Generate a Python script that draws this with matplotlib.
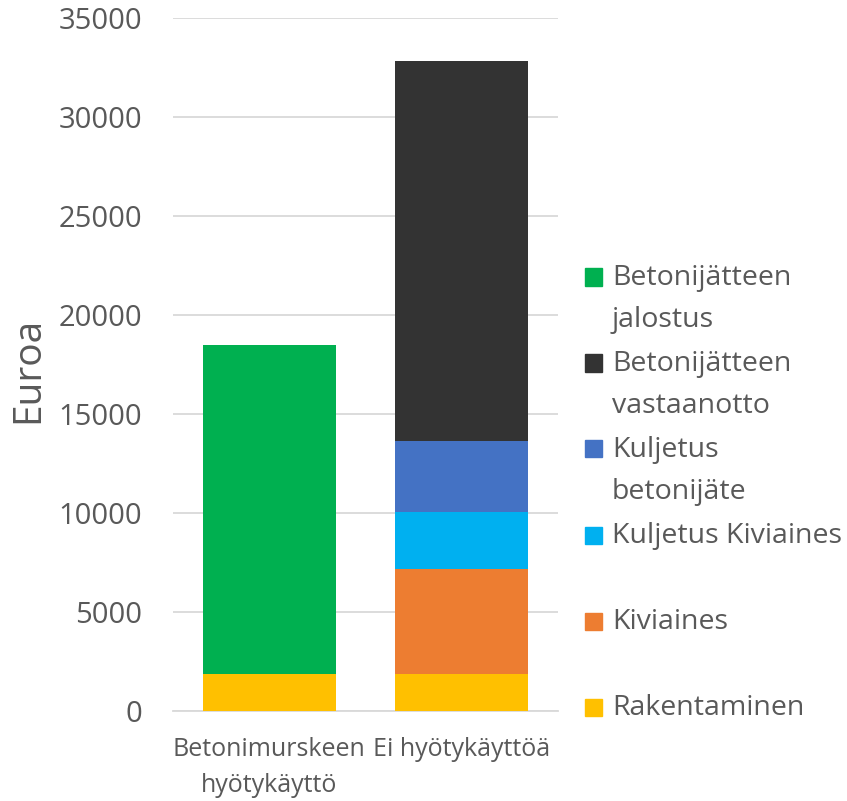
import matplotlib.pyplot as plt
from matplotlib.patches import Rectangle

plt.rcParams['font.family'] = ['Open Sans', 'DejaVu Sans']

categories = ['Betonimurskeen\nhyötykäyttö', 'Ei hyötykäyttöä']
series_names = ['Rakentaminen', 'Kiviaines', 'Kuljetus Kiviaines',
                'Kuljetus\nbetonijäte', 'Betonijätteen\nvastaanotto',
                'Betonijätteen\njalostus']
rakentaminen = [1870, 1870]
kiviaines = [0, 5300]
kuljetus_kiviaines = [0, 2880]
kuljetus_betonijate = [0, 3590]
vastaanotto = [0, 19190]
jalostus = [16615, 0]
colors = ['#FFC000', '#ED7D31', '#00B0F0', '#4472C4', '#333333', '#00B050']
yticks = [0, 5000, 10000, 15000, 20000, 25000, 30000, 35000]

values = [rakentaminen, kiviaines, kuljetus_kiviaines, kuljetus_betonijate,
          vastaanotto, jalostus]

fig = plt.figure(figsize=(8.47, 8.01), dpi=100)
ax = fig.add_axes([0.204, 0.1124, 0.455, 0.865])

x = list(range(len(categories)))
bottom = [0, 0]
for vals, col in zip(values, colors):
    ax.bar(x, vals, width=0.69, bottom=bottom, color=col, zorder=3)
    bottom = [b + v for b, v in zip(bottom, vals)]

ax.set_xlim(-0.5, 1.5)
ax.set_ylim(0, 35000)
ax.set_yticks(yticks)
ax.set_xticks(x)
ax.set_xticklabels(categories, fontsize=18, color='#595959', linespacing=1.55)
ax.tick_params(axis='y', labelsize=21, colors='#595959', length=0, pad=22)
ax.tick_params(axis='x', length=0, pad=19)
ax.grid(axis='y', color='#d9d9d9', linewidth=1.3, zorder=0)
for s in ['top', 'right', 'left']:
    ax.spines[s].set_visible(False)
ax.spines['bottom'].set_color('#d9d9d9')
ax.spines['bottom'].set_linewidth(1.3)

fig.text(28 / 847, 1 - 370 / 801, 'Euroa', rotation=90, fontsize=28,
         color='#595959', ha='center', va='center')

# legend, drawn by hand so entries stay evenly spaced like Excel
W, H = 847, 801
top_y = 277
step = 86
for i, (name, col) in enumerate(zip(series_names[::-1], colors[::-1])):
    yc = top_y + i * step
    fig.patches.append(Rectangle((585 / W, 1 - (yc + 8.5) / H), 17 / W, 17 / H,
                                 transform=fig.transFigure, color=col))
    fig.text(612 / W, 1 - (yc - 13) / H, name, fontsize=20.5, color='#595959',
             ha='left', va='top', linespacing=1.65)

fig.savefig('out.png', dpi=100)
